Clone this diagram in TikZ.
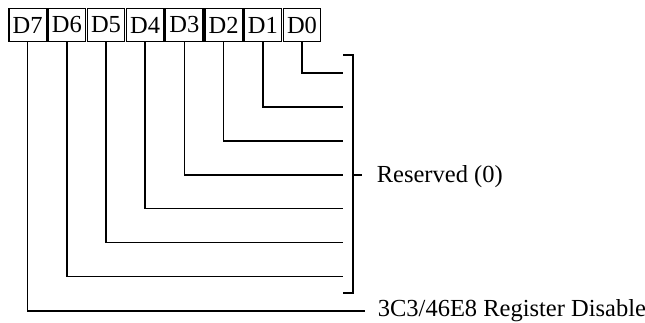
\documentclass[tikz,border=0pt]{standalone}
\usepackage{fontspec}
\setmainfont{Liberation Serif}
\usetikzlibrary{positioning}

\begin{document}
\begin{tikzpicture}[x=1pt, y=-1pt, line width=1.7pt,
	bit/.style={draw, line width=1.4pt, minimum width=37.5pt, minimum height=33pt, inner sep=0pt, font=\fontsize{24.5}{28}\selectfont},
	lbl/.style={anchor=base west, inner sep=0pt, font=\fontsize{24.5}{28}\selectfont}]
	\useasboundingbox (0,0) rectangle (645,322);
	% register bits
	\foreach \i in {0,...,7} {
		\node[bit] (d\i) at ({302-39.2*\i},25) {D\i};
	}
	% bit lines D0..D6
	\foreach \i in {0,...,6} {
		\coordinate (e\i) at (343,{73+33.9*\i});
		\draw (d\i.south) |- (e\i);
	}
	% bracket
	\coordinate (bt) at (343,55);
	\coordinate (bm) at (353,175);
	\coordinate (bb) at (343,293);
	\draw (bt) -| (bm) |- (bb);
	\node[lbl] (res) at (376,182) {Reserved (0)};
	\draw (bm) -- ++(9,0);
	% bit D7
	\node[lbl] (dis) at (377,316) {3C3/46E8 Register Disable};
	\draw (d7.south) |- ([xshift=-12pt]dis.west |- 0,311);
\end{tikzpicture}
\end{document}
